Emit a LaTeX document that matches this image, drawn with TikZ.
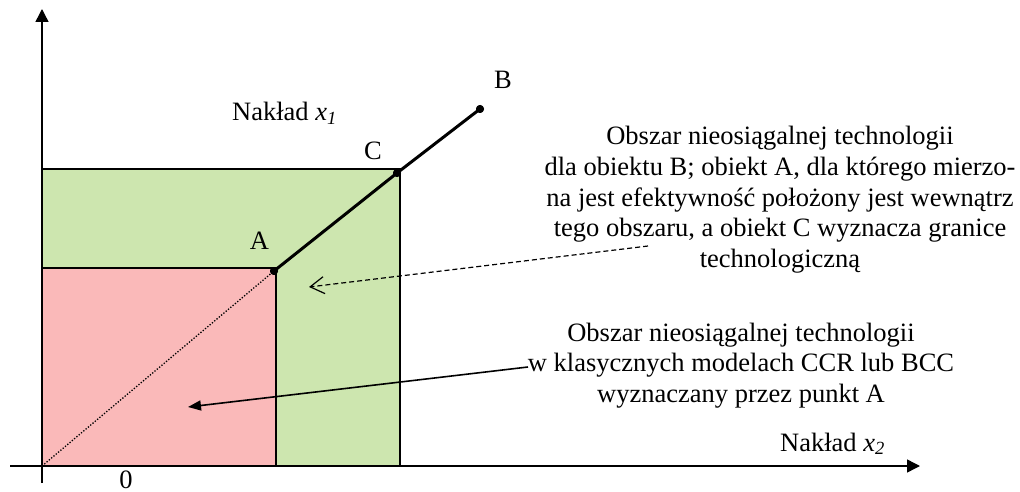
\documentclass[tikz,border=0pt]{standalone}
\usepackage{fontspec}
\setmainfont{Liberation Serif}
\usetikzlibrary{arrows.meta}
\definecolor{greenfill}{RGB}{205,230,175}
\definecolor{redfill}{RGB}{250,185,185}
\begin{document}
\begin{tikzpicture}[x=1pt,y=-1pt,
  lbl/.style={font=\fontsize{26.5}{30.5}\selectfont, inner sep=0pt, anchor=base},
  axisline/.style={line width=1.4pt, -{Triangle[length=13pt,width=13pt]}},
  region/.style={draw=black, line width=2pt},
  dot/.style={circle, fill=black, inner sep=0pt, minimum size=8pt}]
\useasboundingbox (0,0) rectangle (1020,492);
% regions
\draw[region, fill=greenfill] (42,169) rectangle (400,466);
\draw[region, fill=redfill] (42,268) rectangle (276,466);
% axes
\coordinate (xs) at (10,466);
\coordinate (xe) at (920,466);
\coordinate (ys) at (42,483);
\coordinate (ye) at (42,9);
\coordinate (O) at (42,466);
\draw[axisline] (xs) -- (xe);
\draw[axisline] (ys) -- (ye);
% points
\node[dot] (A) at (274,271) {};
\node[dot] (C) at (397,173) {};
\node[dot] (B) at (480,109) {};
\draw[line width=1.3pt, dash pattern=on 1.3pt off 1.7pt] (O) -- (A.center);
\draw[line width=3pt] (A.center) -- (C.center) -- (B.center);
\node[dot] at (A) {};
\node[dot] at (C) {};
\node[dot] at (B) {};
% point labels
\node[lbl] (lA) at (259.5,249) {A};
\node[lbl] (lC) at (373,160) {C};
\node[lbl] (lB) at (503,89) {B};
\node[lbl] (l0) at (126,488) {0};
\node[lbl, anchor=base west] (nx1) at (232,121) {Nakład \textit{x}\textsubscript{\textit{1}}};
\node[lbl, anchor=base west] (nx2) at (780,451) {Nakład \textit{x}\textsubscript{\textit{2}}};
% text block 1
\node[lbl] (t11) at (780,145) {Obszar nieosiągalnej technologii};
\node[lbl] (t12) at (780,175.5) {dla obiektu B; obiekt A, dla którego mierzo-};
\node[lbl] (t13) at (780,206) {na jest efektywność położony jest wewnątrz};
\node[lbl] (t14) at (780,236.5) {tego obszaru, a obiekt C wyznacza granice};
\node[lbl] (t15) at (780,267) {technologiczną};
% text block 2
\node[lbl] (t21) at (741,341) {Obszar nieosiągalnej technologii};
\node[lbl] (t22) at (741,371.5) {w klasycznych modelach CCR lub BCC};
\node[lbl] (t23) at (741,402) {wyznaczany przez punkt A};
% arrows
\coordinate (d1) at (648,246);
\coordinate (d2) at (309,287);
\draw[line width=1.2pt, dash pattern=on 5pt off 3pt, -{Straight Barb[length=14pt,width=17pt]}] (d1) -- (d2);
\coordinate (s1) at (528,367);
\coordinate (s2) at (188,407);
\draw[line width=1.6pt, -{Triangle[length=13pt,width=10pt]}] (s1) -- (s2);
\end{tikzpicture}
\end{document}
